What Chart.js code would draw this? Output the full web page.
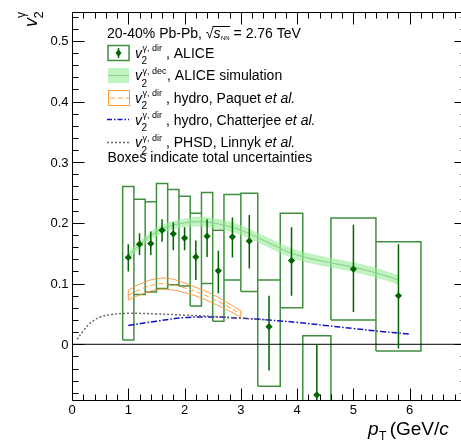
<!DOCTYPE html>
<html><head><meta charset="utf-8">
<script src="https://cdn.jsdelivr.net/npm/chart.js@4.4.1/dist/chart.umd.min.js"></script>
<style>html,body{margin:0;padding:0;background:#fff;overflow:hidden;width:461px;height:441px}canvas{display:block}</style>
</head><body><canvas id="c" width="480" height="441"></canvas>
<script>
// ALICE direct-photon v2 data
const alicePt   = [1.0, 1.2, 1.4, 1.6, 1.8, 2.0, 2.2, 2.4, 2.6, 2.85, 3.15, 3.5, 3.9, 4.35, 5.0, 5.8];
const aliceV2   = [0.143,0.165,0.166,0.188,0.182,0.175,0.144,0.178,0.121,0.177,0.170,0.029,0.138,-0.0835,0.124,0.080];
const statHi    = [0.165,0.183,0.186,0.206,0.201,0.193,0.171,0.206,0.154,0.209,0.213,0.080,0.193,0.000,0.197,0.165];
const statLo    = [0.120,0.147,0.147,0.169,0.155,0.155,0.106,0.144,0.084,0.143,0.125,-0.043,0.080,-0.170,0.053,-0.007];
const binLo     = [0.9, 1.1, 1.3, 1.5, 1.7, 1.9, 2.1, 2.3, 2.5, 2.7, 3.0, 3.3, 3.7, 4.1, 4.6, 5.4];
const binHi     = [1.1, 1.3, 1.5, 1.7, 1.9, 2.1, 2.3, 2.5, 2.7, 3.0, 3.3, 3.7, 4.1, 4.6, 5.4, 6.2];
const totHi     = [0.260,0.239,0.235,0.265,0.255,0.244,0.216,0.250,0.188,0.247,0.249,0.106,0.216,0.014,0.208,0.169];
const totLo     = [0.007,0.082,0.086,0.092,0.098,0.096,0.063,0.100,0.038,0.106,0.087,-0.069,0.060,-0.200,0.040,-0.011];
// decay-photon v2 simulation band
const simPt  = [1.0,1.25,1.5,1.75,2.0,2.25,2.5,2.75,3.0,3.25,3.5,3.75,4.0,4.5,5.0,5.5,5.8];
const simV2  = [0.146,0.168,0.185,0.195,0.200,0.202,0.200,0.195,0.188,0.178,0.167,0.156,0.147,0.136,0.127,0.115,0.106];
const simErr = [0.006,0.006,0.007,0.007,0.007,0.008,0.008,0.008,0.008,0.008,0.008,0.008,0.008,0.008,0.008,0.008,0.008];
// hydro Paquet et al.
const paqPt  = [1.0,1.25,1.5,1.75,2.0,2.25,2.5,2.75,3.0];
const paqV2  = [0.081,0.092,0.099,0.099,0.093,0.085,0.075,0.063,0.050];
const paqErr = [0.008,0.009,0.009,0.009,0.008,0.007,0.007,0.006,0.005];
// hydro Chatterjee et al.
const chaPt  = [1.0,1.5,2.0,2.5,3.0,3.5,4.0,4.5,5.0,5.5,6.0];
const chaV2  = [0.031,0.038,0.044,0.045,0.043,0.040,0.036,0.031,0.026,0.021,0.017];
// PHSD Linnyk et al.
const phsdPt = [0.09,0.2,0.3,0.4,0.5,0.7,1.0,1.5,2.0,2.5,3.0,3.5];
const phsdV2 = [0.008,0.022,0.033,0.040,0.045,0.049,0.051,0.050,0.048,0.046,0.043,0.040];
// axis ticks
const xTickVals = [0,1,2,3,4,5,6];
const xTickLabels = ['0','1','2','3','4','5','6'];
const yTickVals = [0,0.1,0.2,0.3,0.4,0.5];
const yTickLabels = ['0','0.1','0.2','0.3','0.4','0.5'];

const FONT = '"Liberation Sans", Arial, Helvetica, sans-serif';
function f(size, it){ return (it ? 'italic ' : '') + size + 'px ' + FONT; }
function txt(ctx, s, x, y, size, it){ ctx.font = f(size, it); ctx.fillText(s, x, y); return x + ctx.measureText(s).width; }

const C_BOX = '#3f8f3f', C_PT = '#006400', C_BAND = 'rgba(150,235,150,0.6)', C_BANDL = '#8acb8a';
const C_OR = '#ff9a3c', C_BLUE = '#1010cc', C_GRAY = '#6a6a6a';

const pts = (xs, ys) => xs.map((x, i) => ({x, y: ys[i]}));
const boxData = [];
binLo.forEach((lo, i) => {
  boxData.push({x: lo, y: totLo[i]}, {x: lo, y: totHi[i]}, {x: binHi[i], y: totHi[i]},
               {x: binHi[i], y: totLo[i]}, {x: lo, y: totLo[i]}, {x: lo, y: null});
});
const errData = [];
alicePt.forEach((x, i) => { errData.push({x, y: statLo[i]}, {x, y: statHi[i]}, {x, y: null}); });

const line = (data, color, width, extra) => Object.assign({data, borderColor: color, borderWidth: width,
  pointRadius: 0, fill: false, tension: 0}, extra || {});

const decor = {
  id: 'decor',
  afterDraw(chart) {
    const ctx = chart.ctx, xs = chart.scales.x, ys = chart.scales.y, a = chart.chartArea;
    ctx.save();
    ctx.strokeStyle = '#000'; ctx.lineWidth = 1;
    const L = Math.round(a.left) + 0.5, R = Math.round(a.right) + 0.5, T = Math.round(a.top) + 0.5, B = Math.round(a.bottom) + 0.5;
    ctx.beginPath(); ctx.rect(L, T, R - L, B - T); ctx.stroke();
    ctx.beginPath();
    for (let i = 0; i <= 35; i++) {
      const px = Math.round(xs.getPixelForValue(i / 5)) + 0.5, len = i % 5 === 0 ? 12 : 6;
      ctx.moveTo(px, B); ctx.lineTo(px, B - len);
      ctx.moveTo(px, T); ctx.lineTo(px, T + len);
    }
    for (let i = -4; i <= 27; i++) {
      const py = Math.round(ys.getPixelForValue(i * 0.02)) + 0.5, len = i % 5 === 0 ? 12 : 6;
      ctx.moveTo(L, py); ctx.lineTo(L + len, py);
      ctx.moveTo(R, py); ctx.lineTo(R - len, py);
    }
    ctx.stroke();
    ctx.fillStyle = '#000';
    ctx.font = f(13); ctx.textAlign = 'center'; ctx.textBaseline = 'alphabetic';
    xTickVals.forEach((v, i) => ctx.fillText(xTickLabels[i], xs.getPixelForValue(v), B + 13.5));
    ctx.textAlign = 'right';
    yTickVals.forEach((v, i) => ctx.fillText(yTickLabels[i], L - 4, ys.getPixelForValue(v) + 4.5));
    ctx.textAlign = 'left';
    // x-axis title
    let x = txt(ctx, 'p', 368, 434.5, 19, true);
    x = txt(ctx, 'T', x + 0.5, 440, 12);
    x = txt(ctx, ' (GeV/', x - 2, 434.5, 19);
    txt(ctx, 'c', x, 434.5, 19, true);
    // y-axis title
    ctx.save(); ctx.translate(37, 27); ctx.rotate(-Math.PI / 2);
    const ve = txt(ctx, 'v', 0, 0, 18, true);
    txt(ctx, '2', ve - 0.5, 6, 13);
    txt(ctx, 'γ', ve, -12, 12);
    ctx.restore();
    // legend header
    x = txt(ctx, '20-40% Pb-Pb, ', 107, 37.5, 14);
    x = txt(ctx, '√', x, 37.5, 14);
    const xs0 = x - 1;
    x = txt(ctx, 's', x, 37.5, 14, true);
    x = txt(ctx, 'NN', x + 0.5, 39.5, 6);
    ctx.beginPath(); ctx.moveTo(xs0, 26.5); ctx.lineTo(x + 0.5, 26.5); ctx.stroke();
    txt(ctx, ' = 2.76 TeV', x, 37.5, 14);
    // legend rows
    function vsym(base, sup) {
      const xe = txt(ctx, 'v', 135, base, 14, true);
      txt(ctx, '2', xe - 0.5, base + 6.5, 10);
      const e = txt(ctx, sup, xe + 0.5, base - 6.5, 9);
      return Math.max(e + 0.5, 166);
    }
    const rows = [
      [57.5, 'γ, dir', ', ALICE', ''],
      [80, 'γ, dec', ', ALICE simulation', ''],
      [102.5, 'γ, dir', ', hydro, Paquet ', 'et al.'],
      [124.5, 'γ, dir', ', hydro, Chatterjee ', 'et al.'],
      [147, 'γ, dir', ', PHSD, Linnyk ', 'et al.']
    ];
    rows.forEach(r => {
      let xx = vsym(r[0], r[1]);
      xx = txt(ctx, r[2], xx, r[0], 14);
      if (r[3]) txt(ctx, r[3], xx, r[0], 14, true);
    });
    txt(ctx, 'Boxes indicate total uncertainties', 107.5, 161.5, 14);
    // legend symbols
    const sx0 = 108, sx1 = 129, sm = 118.5;
    ctx.lineWidth = 1.5; ctx.strokeStyle = C_BOX;
    ctx.strokeRect(sx0, 45.5, sx1 - sx0, 15);
    ctx.strokeStyle = C_PT; ctx.beginPath(); ctx.moveTo(sm, 48); ctx.lineTo(sm, 58); ctx.stroke();
    ctx.fillStyle = C_PT; ctx.beginPath(); ctx.moveTo(sm, 49.2); ctx.lineTo(sm + 3, 53); ctx.lineTo(sm, 56.8); ctx.lineTo(sm - 3, 53); ctx.closePath(); ctx.fill();
    ctx.fillStyle = C_BAND; ctx.fillRect(sx0, 68, sx1 - sx0, 15);
    ctx.lineWidth = 1; ctx.strokeStyle = C_BANDL; ctx.beginPath(); ctx.moveTo(sx0, 75.5); ctx.lineTo(sx1, 75.5); ctx.stroke();
    ctx.strokeStyle = C_OR; ctx.strokeRect(sx0 + 0.5, 90.5, sx1 - sx0, 15);
    ctx.setLineDash([5, 3]); ctx.beginPath(); ctx.moveTo(sx0 + 2, 98); ctx.lineTo(sx1, 98); ctx.stroke();
    ctx.lineWidth = 1.5;
    ctx.strokeStyle = C_BLUE; ctx.setLineDash([5, 2, 1.5, 2]); ctx.beginPath(); ctx.moveTo(107, 119.5); ctx.lineTo(129, 119.5); ctx.stroke();
    ctx.strokeStyle = C_GRAY; ctx.setLineDash([2, 2]); ctx.beginPath(); ctx.moveTo(107, 142.5); ctx.lineTo(129, 142.5); ctx.stroke();
    ctx.setLineDash([]);
    ctx.restore();
  }
};

new Chart(document.getElementById('c'), {
  type: 'line',
  data: {
    datasets: [
      line(boxData, C_BOX, 1.5, {order: 20}),
      line(pts(simPt, simV2.map((v, i) => v + simErr[i])), 'rgba(0,0,0,0)', 0, {order: 19, tension: 0.4}),
      line(pts(simPt, simV2.map((v, i) => v - simErr[i])), 'rgba(0,0,0,0)', 0, {order: 18, tension: 0.4, fill: '-1', backgroundColor: C_BAND}),
      line(pts(simPt, simV2), C_BANDL, 1, {order: 17, tension: 0.4}),
      line(pts(paqPt, paqV2.map((v, i) => v + paqErr[i])), C_OR, 1, {order: 16, tension: 0.4}),
      line(pts(paqPt, paqV2.map((v, i) => v - paqErr[i])), C_OR, 1, {order: 15, tension: 0.4}),
      line(pts(paqPt, paqV2), C_OR, 1, {order: 14, tension: 0.4, borderDash: [5, 3]}),
      line([{x: paqPt[0], y: paqV2[0] - paqErr[0]}, {x: paqPt[0], y: paqV2[0] + paqErr[0]}], C_OR, 1, {order: 13}),
      line([{x: paqPt[8], y: paqV2[8] - paqErr[8]}, {x: paqPt[8], y: paqV2[8] + paqErr[8]}], C_OR, 1, {order: 13}),
      line(pts(chaPt, chaV2), C_BLUE, 1.5, {order: 12, tension: 0.4, borderDash: [6, 2, 1.5, 2]}),
      line(pts(phsdPt, phsdV2), C_GRAY, 1.5, {order: 11, tension: 0.4, borderDash: [2, 2]}),
      line([{x: 0, y: 0}, {x: 7, y: 0}], '#000', 1, {order: 10}),
      line(errData, C_PT, 1.5, {order: 5}),
      {data: pts(alicePt, aliceV2), showLine: false, pointStyle: 'rectRot', pointRadius: 3.6,
       pointBackgroundColor: C_PT, pointBorderColor: C_PT, pointBorderWidth: 0, order: 0}
    ]
  },
  options: {
    responsive: false, animation: false, devicePixelRatio: 1,
    layout: {padding: {left: 72, top: 12, right: 14, bottom: 41}},
    scales: {
      x: {type: 'linear', min: 0, max: 7, display: false},
      y: {type: 'linear', min: -0.0918, max: 0.5475, display: false}
    },
    plugins: {legend: {display: false}, tooltip: {enabled: false}},
    events: []
  },
  plugins: [decor]
});
</script>
</body></html>
